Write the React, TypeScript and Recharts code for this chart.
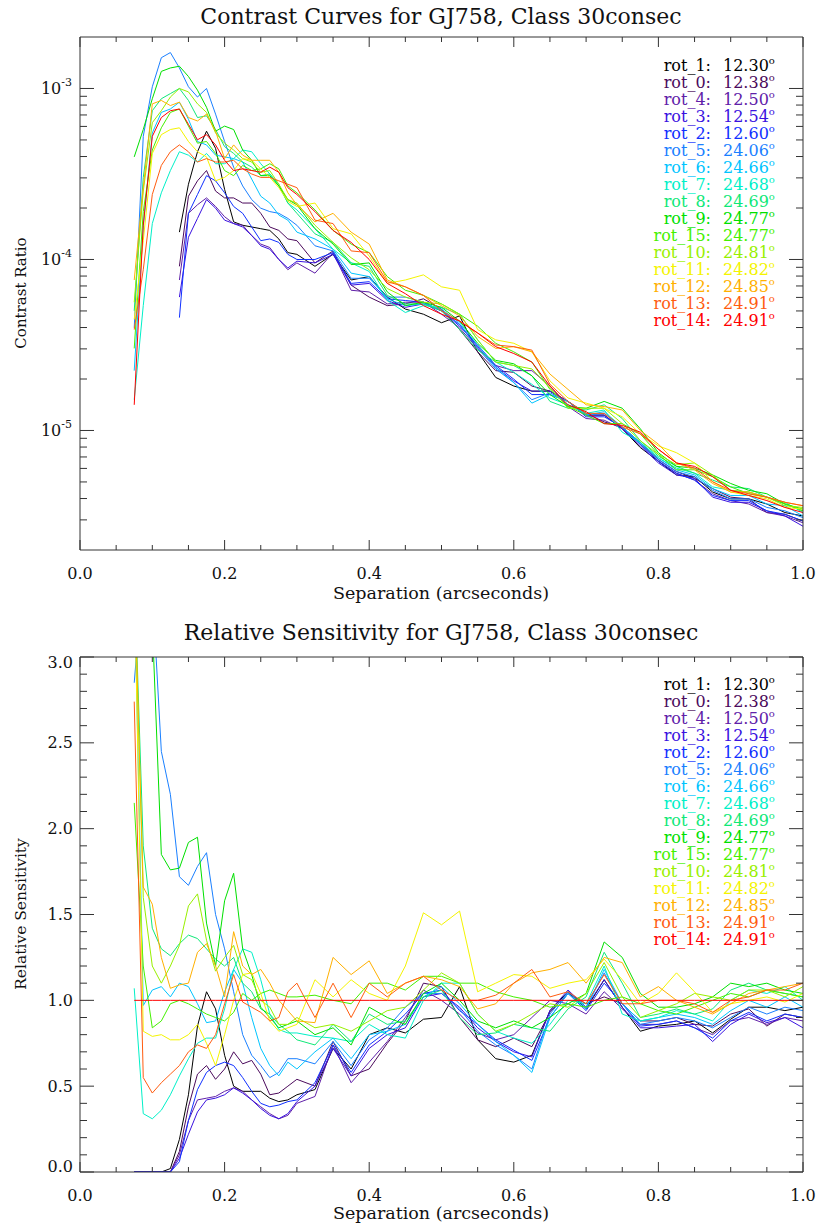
import React from "react";
import { LineChart, Line, XAxis, YAxis } from "recharts";

// separation grid (arcsec)
const sep = [0.075, 0.0875, 0.1, 0.1125, 0.125, 0.1375, 0.15, 0.1625, 0.175, 0.1875, 0.2, 0.2125, 0.225, 0.2375, 0.25, 0.2625, 0.275, 0.2875, 0.3,
  0.325, 0.35, 0.375, 0.4, 0.425, 0.45, 0.475, 0.5, 0.525, 0.55, 0.575, 0.6, 0.625, 0.65, 0.675, 0.7, 0.725, 0.75, 0.775, 0.8, 0.825, 0.85, 0.875, 0.9, 0.925, 0.95, 0.975, 1.0];

const names = ["rot_1", "rot_0", "rot_4", "rot_3", "rot_2", "rot_5", "rot_6", "rot_7", "rot_8", "rot_9", "rot_15", "rot_10", "rot_11", "rot_12", "rot_13", "rot_14"];
const angles = ["12.30", "12.38", "12.50", "12.54", "12.60", "24.06", "24.66", "24.68", "24.69", "24.77", "24.77", "24.81", "24.82", "24.85", "24.91", "24.91"];
const colors = ["#000000", "#4b0a5c", "#6020a8", "#3a12e0", "#1030ff", "#1a80ff", "#00c4ff", "#00f0c8", "#10e878", "#00e000", "#44f000", "#98f000", "#f4f400", "#ffb000", "#ff5c10", "#ff0000"];

// contrast, log10 units (top panel)
const _ = null;
const logC_rot1 = [_, _, _, _, _, -3.84, -3.56, -3.37, -3.25, -3.35, -3.59, -3.78, -3.80, -3.81, -3.82, -3.83, -3.88, -3.96, -3.97, -4.04, -3.97, -4.12, -4.10, -4.22, -4.29, -4.32, -4.37, -4.33, -4.54, -4.69, -4.74, -4.77, -4.77, -4.83, -4.91, -4.91, -4.99, -5.10, -5.18, -5.26, -5.27, -5.36, -5.40, -5.40, -5.43, -5.48, -5.50];
const logC_rot0 = [_, _, _, _, _, -4.04, -3.63, -3.54, -3.48, -3.60, -3.64, -3.64, -3.67, -3.67, -3.73, -3.81, -3.83, -3.88, -3.89, -4.02, -3.95, -4.15, -4.22, -4.27, -4.26, -4.23, -4.29, -4.41, -4.54, -4.65, -4.66, -4.74, -4.77, -4.83, -4.90, -4.95, -4.98, -5.07, -5.17, -5.24, -5.28, -5.34, -5.39, -5.40, -5.48, -5.49, -5.53];
const logC_rot4 = [_, _, _, _, _, -4.12, -3.73, -3.68, -3.64, -3.69, -3.75, -3.79, -3.80, -3.86, -3.91, -3.93, -4.00, -4.06, -4.02, -4.08, -3.96, -4.18, -4.19, -4.26, -4.25, -4.25, -4.32, -4.40, -4.52, -4.62, -4.65, -4.65, -4.74, -4.86, -4.93, -4.94, -4.99, -5.08, -5.18, -5.25, -5.29, -5.37, -5.41, -5.43, -5.48, -5.50, -5.54];
const logC_rot3 = [_, _, _, _, _, -4.22, -3.87, -3.76, -3.65, -3.70, -3.77, -3.79, -3.81, -3.86, -3.92, -3.94, -4.00, -4.05, -4.01, -4.02, -3.97, -4.15, -4.14, -4.24, -4.28, -4.26, -4.30, -4.38, -4.51, -4.63, -4.71, -4.77, -4.77, -4.83, -4.91, -4.91, -4.99, -5.09, -5.19, -5.26, -5.28, -5.39, -5.42, -5.42, -5.47, -5.50, -5.56];
const logC_rot2 = [_, _, _, _, _, -4.34, -3.73, -3.62, -3.51, -3.54, -3.61, -3.69, -3.73, -3.81, -3.89, -3.88, -3.90, -3.97, -4.00, -4.00, -3.96, -4.14, -4.13, -4.23, -4.24, -4.25, -4.30, -4.39, -4.50, -4.62, -4.70, -4.79, -4.79, -4.83, -4.92, -4.92, -4.98, -5.08, -5.18, -5.25, -5.29, -5.38, -5.41, -5.41, -5.47, -5.49, -5.53];
const logC_rot5 = [-4.40, -3.28, -2.99, -2.82, -2.79, -2.88, -2.99, -3.05, -3.00, -3.15, -3.31, -3.46, -3.57, -3.65, -3.70, -3.72, -3.73, -3.76, -3.80, -3.92, -3.95, -4.11, -4.11, -4.22, -4.22, -4.25, -4.30, -4.38, -4.52, -4.64, -4.72, -4.82, -4.78, -4.83, -4.91, -4.90, -4.98, -5.08, -5.17, -5.24, -5.27, -5.35, -5.40, -5.40, -5.45, -5.47, -5.51];
const logC_rot6 = [-4.65, -3.81, -3.26, -3.14, -3.12, -3.08, -3.18, -3.31, -3.33, -3.39, -3.40, -3.41, -3.43, -3.53, -3.63, -3.67, -3.74, -3.77, -3.84, -3.88, -3.94, -4.08, -4.10, -4.23, -4.27, -4.26, -4.29, -4.37, -4.50, -4.63, -4.72, -4.84, -4.79, -4.83, -4.91, -4.89, -4.98, -5.07, -5.16, -5.23, -5.26, -5.34, -5.38, -5.38, -5.43, -5.44, -5.50];
const logC_rot7 = [-4.82, -4.27, -3.79, -3.61, -3.48, -3.37, -3.39, -3.43, -3.38, -3.44, -3.44, -3.41, -3.36, -3.37, -3.44, -3.50, -3.57, -3.67, -3.71, -3.82, -3.94, -4.02, -4.07, -4.24, -4.31, -4.27, -4.28, -4.32, -4.47, -4.60, -4.66, -4.73, -4.81, -4.85, -4.90, -4.88, -5.01, -5.07, -5.16, -5.22, -5.25, -5.33, -5.35, -5.36, -5.39, -5.42, -5.48];
const logC_rot8 = [-4.30, -3.52, -3.13, -3.06, -3.03, -3.00, -3.07, -3.17, -3.16, -3.24, -3.34, -3.38, -3.43, -3.46, -3.51, -3.50, -3.56, -3.67, -3.73, -3.85, -3.90, -4.02, -4.04, -4.21, -4.26, -4.26, -4.30, -4.41, -4.53, -4.60, -4.62, -4.68, -4.83, -4.87, -4.88, -4.85, -4.93, -5.06, -5.15, -5.21, -5.25, -5.29, -5.33, -5.34, -5.39, -5.43, -5.47];
const logC_rot9 = [-3.40, -3.24, -3.06, -2.90, -2.88, -2.87, -2.93, -3.01, -3.11, -3.25, -3.22, -3.24, -3.36, -3.42, -3.51, -3.51, -3.57, -3.65, -3.68, -3.82, -3.91, -4.03, -4.02, -4.19, -4.27, -4.25, -4.28, -4.36, -4.49, -4.59, -4.61, -4.68, -4.79, -4.86, -4.87, -4.83, -4.87, -4.99, -5.13, -5.21, -5.22, -5.26, -5.31, -5.35, -5.37, -5.43, -5.46];
const logC_rot15 = [-4.52, -3.72, -3.36, -3.23, -3.14, -3.12, -3.22, -3.32, -3.31, -3.38, -3.48, -3.51, -3.45, -3.48, -3.47, -3.44, -3.47, -3.57, -3.61, -3.71, -3.83, -3.91, -3.96, -4.10, -4.18, -4.21, -4.26, -4.32, -4.39, -4.49, -4.54, -4.60, -4.76, -4.86, -4.91, -4.96, -4.96, -5.02, -5.14, -5.23, -5.23, -5.27, -5.33, -5.37, -5.39, -5.43, -5.47];
const logC_rot10 = [-4.25, -3.60, -3.20, -3.13, -3.05, -3.00, -3.02, -3.09, -3.14, -3.26, -3.32, -3.36, -3.41, -3.43, -3.49, -3.48, -3.56, -3.65, -3.67, -3.80, -3.90, -3.99, -4.06, -4.17, -4.22, -4.25, -4.26, -4.32, -4.47, -4.60, -4.62, -4.64, -4.75, -4.87, -4.87, -4.87, -4.96, -5.06, -5.14, -5.20, -5.19, -5.26, -5.35, -5.36, -5.39, -5.44, -5.45];
const logC_rot11 = [-4.35, -3.89, -3.38, -3.27, -3.24, -3.23, -3.31, -3.37, -3.40, -3.54, -3.52, -3.48, -3.41, -3.42, -3.47, -3.52, -3.58, -3.66, -3.69, -3.67, -3.82, -3.85, -3.98, -4.14, -4.12, -4.09, -4.16, -4.18, -4.41, -4.47, -4.49, -4.54, -4.71, -4.81, -4.84, -4.87, -4.92, -5.02, -5.09, -5.13, -5.19, -5.30, -5.36, -5.38, -5.40, -5.45, -5.46];
const logC_rot12 = [-4.12, -3.58, -3.09, -3.07, -3.10, -3.08, -3.17, -3.19, -3.15, -3.25, -3.41, -3.33, -3.39, -3.42, -3.42, -3.42, -3.49, -3.61, -3.68, -3.78, -3.73, -3.84, -3.91, -4.12, -4.16, -4.21, -4.27, -4.33, -4.45, -4.52, -4.51, -4.54, -4.67, -4.76, -4.85, -4.86, -4.88, -5.00, -5.08, -5.19, -5.23, -5.31, -5.36, -5.36, -5.39, -5.42, -5.44];
const logC_rot13 = [-4.41, -4.06, -3.62, -3.45, -3.37, -3.33, -3.37, -3.43, -3.41, -3.43, -3.43, -3.42, -3.47, -3.50, -3.52, -3.52, -3.54, -3.56, -3.58, -3.77, -3.79, -3.95, -3.96, -4.13, -4.16, -4.21, -4.30, -4.36, -4.43, -4.50, -4.51, -4.53, -4.73, -4.83, -4.90, -4.90, -4.98, -5.02, -5.11, -5.19, -5.22, -5.30, -5.35, -5.37, -5.39, -5.42, -5.44];
const logC_rot14 = [-4.85, -3.80, -3.28, -3.17, -3.13, -3.12, -3.21, -3.30, -3.27, -3.33, -3.42, -3.48, -3.47, -3.48, -3.49, -3.46, -3.49, -3.58, -3.62, -3.72, -3.83, -3.90, -4.00, -4.14, -4.20, -4.27, -4.32, -4.36, -4.43, -4.51, -4.55, -4.60, -4.74, -4.85, -4.89, -4.96, -4.97, -5.01, -5.11, -5.19, -5.21, -5.27, -5.35, -5.38, -5.41, -5.45, -5.48];

// relative sensitivity (bottom panel)
const rel_rot1 = [0, 0, 0, 0, 0.02, 0.19, 0.45, 0.85, 1.05, 0.95, 0.68, 0.5, 0.47, 0.47, 0.47, 0.43, 0.41, 0.42, 0.45, 0.48, 0.72, 0.6, 0.8, 0.84, 0.81, 0.89, 0.9, 1.08, 0.77, 0.66, 0.64, 0.68, 0.94, 1.05, 0.95, 1.12, 0.96, 0.82, 0.85, 0.86, 0.88, 0.81, 0.89, 0.96, 0.96, 0.94, 0.96];
const rel_rot0 = [0, 0, 0, 0, 0, 0.12, 0.38, 0.57, 0.62, 0.54, 0.6, 0.7, 0.63, 0.65, 0.57, 0.45, 0.46, 0.5, 0.54, 0.5, 0.76, 0.56, 0.6, 0.75, 0.88, 1.1, 1.08, 0.9, 0.77, 0.73, 0.78, 0.73, 0.93, 1.04, 0.98, 1.02, 0.98, 0.88, 0.88, 0.9, 0.86, 0.85, 0.92, 0.95, 0.85, 0.92, 0.9];
const rel_rot4 = [0, 0, 0, 0, 0, 0.1, 0.3, 0.42, 0.43, 0.44, 0.47, 0.49, 0.47, 0.42, 0.38, 0.34, 0.31, 0.33, 0.4, 0.44, 0.74, 0.52, 0.64, 0.76, 0.9, 1.06, 1.0, 0.92, 0.81, 0.77, 0.8, 0.9, 1.0, 0.98, 0.92, 1.05, 0.95, 0.86, 0.86, 0.88, 0.84, 0.8, 0.88, 0.9, 0.86, 0.9, 0.88];
const rel_rot3 = [0, 0, 0, 0, 0, 0.08, 0.22, 0.35, 0.42, 0.43, 0.45, 0.49, 0.46, 0.42, 0.37, 0.33, 0.31, 0.34, 0.41, 0.5, 0.72, 0.56, 0.72, 0.8, 0.84, 1.02, 1.04, 0.96, 0.84, 0.76, 0.7, 0.67, 0.94, 1.06, 0.96, 1.12, 0.96, 0.84, 0.84, 0.85, 0.86, 0.76, 0.86, 0.92, 0.87, 0.9, 0.84];
const rel_rot2 = [0, 0, 0, 0, 0, 0.06, 0.3, 0.48, 0.58, 0.62, 0.64, 0.62, 0.55, 0.47, 0.4, 0.38, 0.39, 0.41, 0.42, 0.52, 0.74, 0.58, 0.74, 0.82, 0.92, 1.04, 1.06, 0.94, 0.86, 0.77, 0.71, 0.65, 0.9, 1.04, 0.94, 1.1, 0.98, 0.85, 0.86, 0.88, 0.84, 0.78, 0.88, 0.93, 0.88, 0.92, 0.9];
const rel_rot5 = [2.85, 3.5, 3.4, 2.45, 2.2, 1.72, 1.67, 1.78, 1.86, 1.5, 1.3, 1.05, 0.8, 0.68, 0.62, 0.55, 0.58, 0.66, 0.66, 0.63, 0.76, 0.62, 0.77, 0.84, 0.96, 1.04, 1.04, 0.95, 0.82, 0.74, 0.68, 0.6, 0.92, 1.05, 0.96, 1.16, 0.98, 0.86, 0.88, 0.9, 0.88, 0.84, 0.9, 0.96, 0.92, 0.96, 0.94];
const rel_rot6 = [3.5, 0.97, 1.06, 1.08, 1.02, 1.1, 1.08, 0.98, 0.87, 0.88, 1.05, 1.18, 1.1, 0.9, 0.72, 0.62, 0.56, 0.64, 0.6, 0.7, 0.78, 0.66, 0.8, 0.82, 0.86, 1.02, 1.08, 0.98, 0.86, 0.76, 0.68, 0.58, 0.9, 1.04, 0.95, 1.18, 0.98, 0.88, 0.9, 0.92, 0.9, 0.86, 0.94, 1.0, 0.96, 1.02, 0.96];
const rel_rot7 = [1.07, 0.34, 0.31, 0.36, 0.45, 0.56, 0.66, 0.75, 0.78, 0.78, 0.95, 1.18, 1.3, 1.28, 1.12, 0.92, 0.83, 0.81, 0.81, 0.79, 0.78, 0.76, 0.86, 0.8, 0.78, 1.0, 1.1, 1.1, 0.92, 0.82, 0.78, 0.75, 0.86, 1.0, 0.98, 1.2, 0.92, 0.88, 0.9, 0.94, 0.92, 0.88, 1.0, 1.06, 1.04, 1.08, 1.0];
const rel_rot8 = [3.5, 1.9, 1.42, 1.3, 1.26, 1.33, 1.38, 1.36, 1.3, 1.24, 1.2, 1.25, 1.1, 1.05, 0.95, 0.92, 0.86, 0.82, 0.77, 0.74, 0.86, 0.76, 0.92, 0.86, 0.88, 1.02, 1.06, 0.9, 0.8, 0.81, 0.86, 0.84, 0.82, 0.95, 1.02, 1.28, 1.1, 0.9, 0.92, 0.95, 0.92, 0.95, 1.06, 1.1, 1.06, 1.04, 1.02];
const rel_rot9 = [3.5, 3.5, 3.2, 1.85, 1.76, 1.77, 1.92, 1.95, 1.45, 1.2, 1.58, 1.74, 1.3, 1.15, 0.96, 0.9, 0.84, 0.86, 0.88, 0.8, 0.84, 0.74, 0.96, 0.9, 0.86, 1.04, 1.1, 1.0, 0.88, 0.84, 0.88, 0.84, 0.9, 0.98, 1.04, 1.34, 1.25, 1.04, 0.96, 0.96, 0.98, 1.02, 1.1, 1.08, 1.1, 1.06, 1.04];
const rel_rot15 = [2.15, 1.2, 0.84, 0.88, 0.98, 1.0, 0.98, 0.95, 0.92, 0.9, 0.88, 0.93, 1.04, 1.0, 1.04, 1.06, 1.04, 1.02, 1.02, 1.03, 1.0, 0.98, 1.1, 1.1, 1.06, 1.14, 1.14, 1.1, 1.1, 1.05, 1.02, 1.0, 0.96, 0.98, 0.96, 1.0, 1.02, 0.98, 0.94, 0.92, 0.96, 1.0, 1.04, 1.02, 1.06, 1.04, 1.02];
const rel_rot10 = [3.5, 1.6, 1.2, 1.1, 1.2, 1.32, 1.55, 1.62, 1.35, 1.17, 1.25, 1.32, 1.15, 1.12, 1.0, 0.96, 0.86, 0.86, 0.9, 0.84, 0.86, 0.82, 0.88, 0.94, 0.96, 1.06, 1.16, 1.1, 0.92, 0.82, 0.86, 0.92, 0.98, 0.96, 1.04, 1.22, 1.02, 0.9, 0.94, 0.98, 1.04, 1.02, 1.0, 1.06, 1.06, 1.02, 1.08];
const rel_rot11 = [3.5, 0.82, 0.79, 0.8, 0.77, 0.77, 0.8, 0.86, 0.75, 0.62, 0.8, 1.0, 1.15, 1.16, 1.04, 0.88, 0.82, 0.84, 0.86, 1.12, 1.02, 1.12, 1.04, 1.0, 1.2, 1.51, 1.44, 1.52, 1.05, 1.1, 1.15, 1.14, 1.07, 1.1, 1.12, 1.24, 1.12, 0.98, 1.04, 1.16, 1.05, 0.93, 0.98, 1.0, 1.02, 0.99, 1.04];
const rel_rot12 = [3.5, 1.66, 1.56, 1.25, 1.07, 1.09, 1.1, 1.28, 1.33, 1.2, 1.02, 1.4, 1.2, 1.15, 1.18, 1.1, 1.0, 0.94, 0.88, 0.87, 1.25, 1.15, 1.23, 1.04, 1.1, 1.14, 1.12, 1.08, 0.95, 0.98, 1.1, 1.16, 1.18, 1.22, 1.1, 1.25, 1.22, 1.02, 1.08, 1.0, 0.96, 0.92, 0.98, 1.04, 1.06, 1.08, 1.1];
const rel_rot13 = [2.74, 0.55, 0.46, 0.52, 0.57, 0.62, 0.7, 0.74, 0.72, 0.8, 0.98, 1.15, 0.99, 0.96, 0.93, 0.88, 0.9, 1.05, 1.1, 0.9, 1.1, 0.9, 1.1, 1.02, 1.1, 1.14, 1.06, 1.0, 1.0, 1.03, 1.1, 1.18, 1.02, 1.05, 0.98, 1.15, 0.98, 0.98, 1.0, 1.0, 0.98, 0.93, 1.0, 1.02, 1.06, 1.06, 1.1];
const rel_rot14 = [1, 1, 1, 1, 1, 1, 1, 1, 1, 1, 1, 1, 1, 1, 1, 1, 1, 1, 1, 1, 1, 1, 1, 1, 1, 1, 1, 1, 1, 1, 1, 1, 1, 1, 1, 1, 1, 1, 1, 1, 1, 1, 1, 1, 1, 1, 1];

const logC = [logC_rot1, logC_rot0, logC_rot4, logC_rot3, logC_rot2, logC_rot5, logC_rot6, logC_rot7, logC_rot8, logC_rot9, logC_rot15, logC_rot10, logC_rot11, logC_rot12, logC_rot13, logC_rot14];
const rel = [rel_rot1, rel_rot0, rel_rot4, rel_rot3, rel_rot2, rel_rot5, rel_rot6, rel_rot7, rel_rot8, rel_rot9, rel_rot15, rel_rot10, rel_rot11, rel_rot12, rel_rot13, rel_rot14];

// axis ticks
const xTicks = [0, 0.05, 0.1, 0.15, 0.2, 0.25, 0.3, 0.35, 0.4, 0.45, 0.5, 0.55, 0.6, 0.65, 0.7, 0.75, 0.8, 0.85, 0.9, 0.95, 1.0];
const logTicks = [3e-6, 4e-6, 5e-6, 6e-6, 7e-6, 8e-6, 9e-6, 1e-5, 2e-5, 3e-5, 4e-5, 5e-5, 6e-5, 7e-5, 8e-5, 9e-5,
  1e-4, 2e-4, 3e-4, 4e-4, 5e-4, 6e-4, 7e-4, 8e-4, 9e-4, 1e-3];
const relTicks = [0, 0.1, 0.2, 0.3, 0.4, 0.5, 0.6, 0.7, 0.8, 0.9, 1.0, 1.1, 1.2, 1.3, 1.4, 1.5, 1.6, 1.7, 1.8, 1.9, 2.0,
  2.1, 2.2, 2.3, 2.4, 2.5, 2.6, 2.7, 2.8, 2.9, 3.0];

const FONT = "'DejaVu Serif', serif";
const AX = "#333";

const topRows = sep.map((s, i) => {
  const row: Record<string, number | null> = { sep: s };
  names.forEach((n, k) => {
    const v = logC[k][i];
    row[n] = v === null ? null : Math.pow(10, v);
  });
  return row;
});

const relRows = sep.map((s, i) => {
  const row: Record<string, number | null> = { sep: s };
  names.forEach((n, k) => {
    row[n] = rel[k][i];
  });
  return row;
});

const isMult = (v: number, step: number) => Math.abs(v / step - Math.round(v / step)) < 1e-6;

/* eslint-disable @typescript-eslint/no-explicit-any */
const XTick = (props: any) => {
  const { x, y, payload, side } = props;
  const v = payload.value;
  const major = isMult(v, 0.2);
  const len = major ? 10 : 5;
  const dir = side === "bottom" ? -1 : 1;
  return (
    <g>
      <line x1={x} y1={y} x2={x} y2={y + dir * len} stroke={AX} />
      {side === "bottom" && major && (
        <text x={x} y={y + 23} textAnchor="middle" dominantBaseline="central" fontFamily={FONT} fontSize={16} fill="#111">
          {v.toFixed(1)}
        </text>
      )}
    </g>
  );
};

const LogTick = (props: any) => {
  const { x, y, payload, side } = props;
  const v = payload.value;
  const e = Math.floor(Math.log10(v) + 1e-9);
  const major = Math.abs(v / Math.pow(10, e) - 1) < 1e-6;
  const len = major ? 14 : 7;
  const dir = side === "left" ? 1 : -1;
  return (
    <g>
      <line x1={x} y1={y} x2={x + dir * len} y2={y} stroke={AX} />
      {side === "left" && major && (
        <text x={x - 8} y={y + 6} textAnchor="end" fontFamily={FONT} fontSize={16} fill="#111">
          10<tspan dy={-8} fontSize={11}>{e}</tspan>
        </text>
      )}
    </g>
  );
};

const RelTick = (props: any) => {
  const { x, y, payload, side } = props;
  const v = payload.value;
  const major = isMult(v, 0.5);
  const len = major ? 14 : 7;
  const dir = side === "left" ? 1 : -1;
  const nudge = v === 0 ? -6 : v === 3 ? 5 : 0;
  return (
    <g>
      <line x1={x} y1={y} x2={x + dir * len} y2={y} stroke={AX} />
      {side === "left" && major && (
        <text x={x - 7} y={y + nudge} textAnchor="end" dominantBaseline="central" fontFamily={FONT} fontSize={16} fill="#111">
          {v.toFixed(1)}
        </text>
      )}
    </g>
  );
};
/* eslint-enable @typescript-eslint/no-explicit-any */

const Legend = ({ top }: { top: number }) => (
  <g>
    {names.map((n, i) => (
      <g key={n} fontFamily={FONT} fontSize={16} fill={colors[i]}>
        <text x={711} y={top + i * 17 + 6} textAnchor="end">{n}:</text>
        <text x={723} y={top + i * 17 + 6}>
          {angles[i]}<tspan dy={-7} fontSize={10}>o</tspan>
        </text>
      </g>
    ))}
  </g>
);

export default function App() {
  const lineProps = { type: "linear" as const, dot: false, strokeWidth: 1, isAnimationActive: false, xAxisId: "b", yAxisId: "l" };
  const axisBase = { tickSize: 0, tickMargin: 0, tickLine: false, axisLine: { stroke: AX }, allowDataOverflow: true, interval: 0 as const };
  return (
    <div style={{ position: "absolute", left: 0, top: 0, width: 817, height: 1226, background: "#fff" }}>
      <div style={{ position: "absolute", left: 0, top: 0 }}>
        <LineChart width={817} height={600} data={topRows} margin={{ top: 36, right: 13, bottom: 0, left: 0 }}>
          <XAxis xAxisId="b" type="number" dataKey="sep" domain={[0, 1]} ticks={xTicks} height={50} {...axisBase}
            tick={(p: any) => <XTick {...p} side="bottom" />} />
          <XAxis xAxisId="t" orientation="top" type="number" dataKey="sep" domain={[0, 1]} ticks={xTicks} height={1} {...axisBase}
            tick={(p: any) => <XTick {...p} side="top" />} />
          <YAxis yAxisId="l" scale="log" type="number" domain={[2e-6, 2e-3]} ticks={logTicks} width={80} {...axisBase}
            tick={(p: any) => <LogTick {...p} side="left" />} />
          <YAxis yAxisId="r" orientation="right" scale="log" type="number" domain={[2e-6, 2e-3]} ticks={logTicks} width={1} {...axisBase}
            tick={(p: any) => <LogTick {...p} side="right" />} />
          {names.map((n, i) => (
            <Line key={n} dataKey={n} stroke={colors[i]} {...lineProps} />
          ))}
        </LineChart>
      </div>
      <div style={{ position: "absolute", left: 0, top: 600 }}>
        <LineChart width={817} height={626} data={relRows} margin={{ top: 56, right: 13, bottom: 0, left: 0 }}>
          <XAxis xAxisId="b" type="number" dataKey="sep" domain={[0, 1]} ticks={xTicks} height={54} {...axisBase}
            tick={(p: any) => <XTick {...p} side="bottom" />} />
          <XAxis xAxisId="t" orientation="top" type="number" dataKey="sep" domain={[0, 1]} ticks={xTicks} height={1} {...axisBase}
            tick={(p: any) => <XTick {...p} side="top" />} />
          <YAxis yAxisId="l" type="number" domain={[0, 3]} ticks={relTicks} width={80} {...axisBase}
            tick={(p: any) => <RelTick {...p} side="left" />} />
          <YAxis yAxisId="r" orientation="right" type="number" domain={[0, 3]} ticks={relTicks} width={1} {...axisBase}
            tick={(p: any) => <RelTick {...p} side="right" />} />
          {names.map((n, i) => (
            <Line key={n} dataKey={n} stroke={colors[i]} {...lineProps} />
          ))}
        </LineChart>
      </div>
      <svg width={817} height={1226} style={{ position: "absolute", left: 0, top: 0, pointerEvents: "none" }}>
        <g fontFamily={FONT} fill="#111" textAnchor="middle">
          <text x={441} y={24} fontSize={22}>Contrast Curves for GJ758, Class 30consec</text>
          <text x={441} y={599} fontSize={17.5}>Separation (arcseconds)</text>
          <text x={441} y={640} fontSize={22}>Relative Sensitivity for GJ758, Class 30consec</text>
          <text x={441} y={1219} fontSize={17.5}>Separation (arcseconds)</text>
          <text transform="translate(26,293) rotate(-90)" fontSize={15}>Contrast Ratio</text>
          <text transform="translate(26,914) rotate(-90)" fontSize={15.5}>Relative Sensitivity</text>
        </g>
        <Legend top={65} />
        <Legend top={684} />
      </svg>
    </div>
  );
}
